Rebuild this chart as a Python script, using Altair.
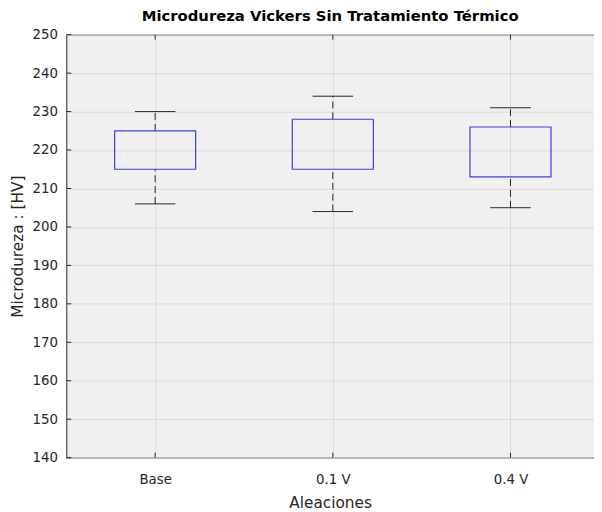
import altair as alt
import pandas as pd

categories = ["Base", "0.1 V", "0.4 V"]
positions = [1, 2, 3]
lower_whisker = [206, 204, 205]
q1 = [215, 215, 213]
q3 = [225, 228, 226]
upper_whisker = [230, 234, 231]

y_ticks = list(range(140, 251, 10))

df = pd.DataFrame({
    "cat": categories,
    "pos": positions,
    "lo": lower_whisker,
    "q1": q1,
    "q3": q3,
    "hi": upper_whisker,
})

BOX_HALF = 0.228
CAP_HALF = 0.114
xdom = [0.5, 3.47]
label_expr = "datum.value == 1 ? 'Base' : datum.value == 2 ? '0.1 V' : datum.value == 3 ? '0.4 V' : ''"

FONT = "DejaVu Sans"
xscale = alt.Scale(domain=xdom, nice=False, zero=False)
yscale = alt.Scale(domain=[140, 250], nice=False, zero=False)

base = alt.Chart(df).transform_calculate(
    bl="datum.pos - %f" % BOX_HALF,
    br="datum.pos + %f" % BOX_HALF,
    cl="datum.pos - %f" % CAP_HALF,
    cr="datum.pos + %f" % CAP_HALF,
)

xaxis = alt.Axis(values=positions, labelExpr=label_expr, title="Aleaciones",
                 grid=True, gridColor="#dadada", domain=False, ticks=False,
                 labelPadding=15, labelFontSize=13.5, labelColor="#262626",
                 labelOverlap=False,
                 titleFontSize=15.5, titleFontWeight="normal", titleColor="#262626",
                 titlePadding=10, labelFont=FONT, titleFont=FONT)
yaxis = alt.Axis(values=y_ticks, title="Microdureza : [HV]",
                 grid=True, gridColor="#dadada", domain=False, ticks=False,
                 labelPadding=9, labelFontSize=13.5, labelColor="#262626",
                 labelOverlap=False,
                 titleFontSize=15.5, titleFontWeight="normal", titleColor="#262626",
                 titlePadding=7, labelFont=FONT, titleFont=FONT)

X = lambda f: alt.X(f, scale=xscale, axis=xaxis)
Y = lambda f: alt.Y(f, scale=yscale, axis=yaxis)

grid_layer = alt.Chart(pd.DataFrame({"pos": positions})).mark_point(opacity=0).encode(
    x=X("pos:Q"), y=Y("p:Q"),
).transform_calculate(p="200")

whisk_up = base.mark_rule(color="#262626", strokeDash=[7, 4], strokeWidth=1).encode(
    x=X("pos:Q"), y=Y("q3:Q"), y2="hi:Q")
whisk_dn = base.mark_rule(color="#262626", strokeDash=[7, 4], strokeWidth=1).encode(
    x=X("pos:Q"), y=Y("lo:Q"), y2="q1:Q")
cap_up = base.mark_rule(color="#262626", strokeWidth=1).encode(
    x=X("cl:Q"), x2="cr:Q", y=Y("hi:Q"))
cap_dn = base.mark_rule(color="#262626", strokeWidth=1).encode(
    x=X("cl:Q"), x2="cr:Q", y=Y("lo:Q"))
box = base.mark_rect(fill=None, fillOpacity=0, stroke="#3c3cf0", strokeWidth=1.2).encode(
    x=X("bl:Q"), x2="br:Q", y=Y("q1:Q"), y2="q3:Q")

# inward tick marks (MATLAB style)
yt = pd.DataFrame({"v": y_ticks})
ytick_left = alt.Chart(yt).mark_rule(color="#262626").encode(
    y=Y("v:Q"), x=alt.value(0), x2=alt.value(5))
xt = pd.DataFrame({"pos": positions})
xtick_bot = alt.Chart(xt).mark_rule(color="#262626").encode(
    x=X("pos:Q"), y=alt.value(428), y2=alt.value(423))
xtick_top = alt.Chart(xt).mark_rule(color="#262626").encode(
    x=X("pos:Q"), y=alt.value(0), y2=alt.value(5))

chart = alt.layer(
    grid_layer, whisk_up, whisk_dn, cap_up, cap_dn, box, ytick_left, xtick_bot, xtick_top
).properties(
    width=534, height=428,
    title=alt.Title("Microdureza Vickers Sin Tratamiento Térmico", fontSize=15,
                    fontWeight="bold", font=FONT, color="#000000", offset=10,
                    baseline="alphabetic", dy=18),
    autosize=alt.AutoSizeParams(type="none"),
    padding={"left": 59, "top": 24, "right": 0, "bottom": 52},
    background="white",
).configure_view(
    fill="#f0f0f0", stroke="#262626", strokeWidth=1,
)

chart.save("out.html", embed_options={"renderer": "svg", "actions": False})
